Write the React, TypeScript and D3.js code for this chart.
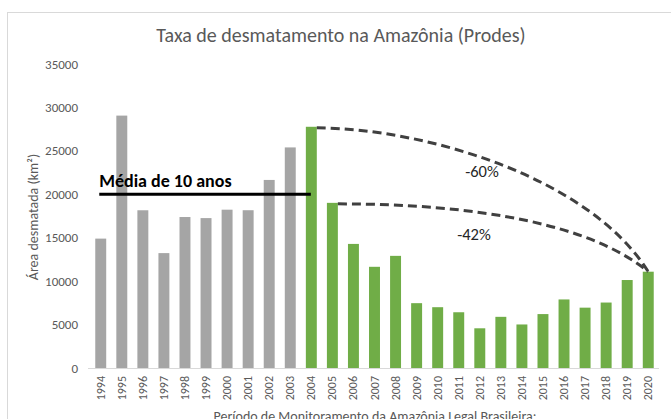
import * as d3 from 'd3';
import { useEffect, useRef } from "react";

const years = ["1994", "1995", "1996", "1997", "1998", "1999", "2000", "2001", "2002", "2003", "2004", "2005", "2006", "2007", "2008", "2009", "2010", "2011", "2012", "2013", "2014", "2015", "2016", "2017", "2018", "2019", "2020"];
const areas = [14896, 29059, 18161, 13227, 17383, 17259, 18226, 18165, 21651, 25396, 27772, 19014, 14286, 11651, 12911, 7464, 7000, 6418, 4571, 5891, 5012, 6207, 7893, 6947, 7536, 10129, 11088];
const yTicks = [0, 5000, 10000, 15000, 20000, 25000, 30000, 35000];
const meanValue = 20000;
const meanLabel = "Média de 10 anos";
// [from year, to year, label]
const drops: [string, string, string][] = [["2004", "2020", "-60%"], ["2005", "2020", "-42%"]];

const App = () => {
    const svgRef = useRef<SVGSVGElement>(null);
    const width = 671, height = 419;
    const margin = { top: 64, bottom: 51, left: 90, right: 12 };
    const font = "Carlito, 'Liberation Sans Narrow', 'Open Sans', sans-serif";

    useEffect(() => {
        const svg = d3.select(svgRef.current)
            .attr('width', width)
            .attr('height', height);
        svg.selectAll('*').remove();

        const x = d3.scaleBand().domain(years).range([margin.left, width - margin.right])
            .paddingInner(0.48).paddingOuter(0.25);
        const y = d3.scaleLinear().domain([0, 35000]).range([height - margin.bottom, margin.top]);

        // chart frame
        svg.append('rect')
            .attr('x', 7.5).attr('y', 12.5)
            .attr('width', width + 10).attr('height', height + 10)
            .attr('fill', 'white').attr('stroke', '#d9d9d9');

        svg.append('text')
            .attr('x', 341).attr('y', 42)
            .attr('text-anchor', 'middle')
            .attr('font-family', font).attr('font-size', 20)
            .attr('fill', '#595959')
            .text('Taxa de desmatamento na Amazônia (Prodes)');

        // y ticks (no gridlines)
        svg.append('g').selectAll('text').data(yTicks).enter().append('text')
            .attr('x', 78).attr('y', d => y(d) + 4.5)
            .attr('text-anchor', 'end')
            .attr('font-family', font).attr('font-size', 13)
            .attr('fill', '#595959')
            .text(d => d);

        svg.append('text')
            .attr('transform', `translate(38,217) rotate(-90)`)
            .attr('text-anchor', 'middle')
            .attr('font-family', font).attr('font-size', 14)
            .attr('fill', '#595959')
            .text('Área desmatada (km²)');

        // bars
        svg.append('g').selectAll('rect').data(years).enter().append('rect')
            .attr('x', d => x(d)!)
            .attr('y', (d, i) => y(areas[i]))
            .attr('width', x.bandwidth())
            .attr('height', (d, i) => y(0) - y(areas[i]))
            .attr('fill', d => +d < 2004 ? '#a5a5a5' : '#70ad47');

        // x axis line
        svg.append('line')
            .attr('x1', margin.left - 2).attr('x2', width - margin.right)
            .attr('y1', y(0) + 0.5).attr('y2', y(0) + 0.5)
            .attr('stroke', '#d9d9d9');

        svg.append('g').selectAll('text').data(years).enter().append('text')
            .attr('transform', d => `translate(${x(d)! + x.bandwidth() / 2 + 4},376) rotate(-90)`)
            .attr('text-anchor', 'end')
            .attr('font-family', font).attr('font-size', 12)
            .attr('fill', '#595959')
            .text(d => d);

        svg.append('text')
            .attr('x', 375).attr('y', 421)
            .attr('text-anchor', 'middle')
            .attr('font-family', font).attr('font-size', 14)
            .attr('fill', '#595959')
            .text('Período de Monitoramento da Amazônia Legal Brasileira:');

        // 10 year mean
        svg.append('line')
            .attr('x1', x('1994')! + 4).attr('x2', x('2004')! + 5)
            .attr('y1', y(meanValue)).attr('y2', y(meanValue))
            .attr('stroke', 'black').attr('stroke-width', 3);
        svg.append('text')
            .attr('x', x('1994')! + 4).attr('y', y(meanValue) - 7)
            .attr('font-family', font).attr('font-size', 18).attr('font-weight', 'bold')
            .attr('fill', 'black')
            .text(meanLabel);

        // dashed drop arcs
        drops.forEach(([from, to, label], k) => {
            const x0 = x(from)! + x.bandwidth();
            const y0 = y(areas[years.indexOf(from)]) + 1;
            const x1 = x(to)! + x.bandwidth() / 2;
            const y1 = y(areas[years.indexOf(to)]);
            const p = d3.path();
            p.moveTo(x0, y0);
            if (k === 0) p.bezierCurveTo(x0 + 112, y0 + 1, x1 - 58, y0 + 51, x1, y1);
            else p.bezierCurveTo(x0 + 142, y0, x1 - 57, y0 + 21, x1, y1);
            svg.append('path')
                .attr('d', p.toString())
                .attr('fill', 'none')
                .attr('stroke', '#404040').attr('stroke-width', 3)
                .attr('stroke-dasharray', '9,5');
            svg.append('text')
                .attr('x', k === 0 ? 482 : 474).attr('y', k === 0 ? 177 : 240)
                .attr('text-anchor', 'middle')
                .attr('font-family', font).attr('font-size', 16.5)
                .attr('fill', '#262626')
                .text(label);
        });
    });

    return (
        <svg ref={svgRef} style={{ position: 'absolute', left: 0, top: 0 }} />
    );
}

export default App;
